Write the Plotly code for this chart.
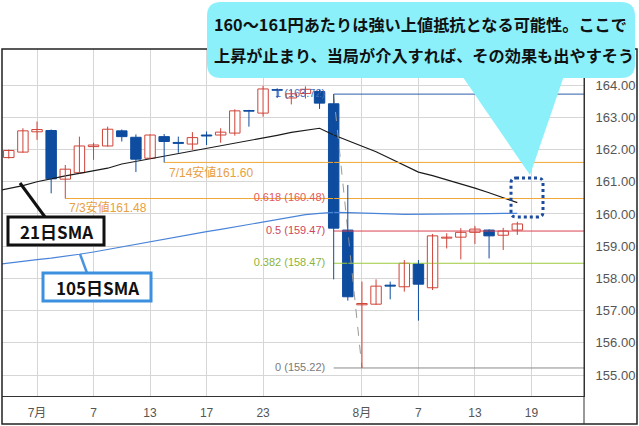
import plotly.graph_objects as go

# ---------------- data (bar slots = trading days) ----------------
bar_idx = list(range(37))
opens  = [161.75, 161.92, 162.55, 162.59, 161.08, 161.28, 162.09, 162.11, 162.58, 162.38,
          161.73, 162.40, 162.22, 162.17, 162.45, 162.45, 162.51, 163.21, 163.13, 163.86,
          163.60, 163.74, 163.80, 163.42, 159.50, 157.18, 157.20, 157.79, 157.74, 158.45,
          157.71, 159.25, 159.28, 159.43, 159.50, 159.34, 159.50]
highs  = [162.00, 162.66, 162.87, 162.62, 161.52, 162.40, 162.21, 162.71, 162.62, 162.47,
          162.47, 162.48, 162.40, 162.54, 162.56, 162.66, 163.25, 163.23, 163.98, 163.90,
          163.85, 163.96, 163.85, 163.72, 160.90, 157.90, 157.97, 157.90, 158.57, 158.57,
          159.38, 159.40, 159.56, 159.63, 159.52, 159.57, 159.76]
lows   = [161.72, 161.90, 162.30, 160.64, 160.48, 161.26, 161.68, 162.09, 162.25, 161.30,
          161.70, 161.60, 161.90, 161.99, 162.14, 162.21, 162.43, 162.71, 163.02, 163.60,
          163.40, 163.58, 163.26, 157.97, 157.31, 155.22, 157.18, 157.35, 157.59, 156.69,
          157.64, 158.93, 158.59, 159.07, 158.62, 158.88, 159.35]
closes = [161.97, 162.58, 162.62, 161.09, 161.39, 162.11, 162.14, 162.63, 162.40, 161.70,
          162.45, 162.25, 162.19, 162.37, 162.42, 162.54, 163.20, 163.19, 163.88, 163.84,
          163.73, 163.87, 163.44, 159.56, 157.43, 157.22, 157.76, 157.76, 158.47, 157.82,
          159.32, 159.28, 159.43, 159.53, 159.32, 159.47, 159.69]

sma_idx = list(range(-1, 37))
sma21 = [160.70, 160.78, 160.88, 161.00, 161.10, 161.18, 161.26, 161.34, 161.42, 161.55,
         161.63, 161.71, 161.79, 161.87, 161.95, 162.03, 162.10, 162.18, 162.27, 162.35,
         162.44, 162.53, 162.60, 162.66, 162.45, 162.27, 162.10, 161.93, 161.72, 161.51,
         161.30, 161.19, 161.06, 160.95, 160.80, 160.66, 160.50, 160.35]
sma105 = [158.42, 158.48, 158.53, 158.58, 158.63, 158.68, 158.75, 158.82, 158.90, 158.98,
          159.06, 159.15, 159.23, 159.31, 159.38, 159.45, 159.52, 159.60, 159.68, 159.76,
          159.84, 159.92, 159.98, 160.02, 160.05, 160.04, 160.02, 160.01, 160.00, 159.99,
          159.99, 159.99, 160.00, 160.00, 160.01, 160.01, 160.02, 160.02]

tick_idx = [2, 6, 10, 14, 18, 25, 29, 33, 37]
tick_text = ["7月", "7", "13", "17", "23", "8月", "7", "13", "19"]
y_ticks = [155, 156, 157, 158, 159, 160, 161, 162, 163, 164]

fib_ratio = ["1", "0.618", "0.5", "0.382", "0"]
fib_value = [163.72, 160.48, 159.47, 158.47, 155.22]
fib_high_idx, fib_low_idx = 23, 25

support_text = ["7/14安値161.60", "7/3安値161.48"]
support_value = [161.60, 160.48]
support_start = [11, 4]

callout_lines = ["160～161円あたりは強い上値抵抗となる可能性。ここで",
                 "上昇が止まり、当局が介入すれば、その効果も出やすそう"]

# ---------------- style ----------------
UP = "#cf4338"
DOWN = "#0e4c9f"
fib_line_col = ["#2f5ea8", "#f0a838", "#d9434f", "#9cc93c", "#8a8a8a"]
fib_text_col = ["#4a6db5", "#e35a58", "#d0455a", "#8db33a", "#7a7a7a"]
ORANGE = "#f0a838"
ORANGE_TXT = "#e8a040"
XMIN, XMAX = -0.48, 40.72
YMIN, YMAX = 154.35, 165.12
W, H = 639, 426
ML, MR, MT, MB = 2, 55, 49, 30
PW, PH = W - ML - MR, H - MT - MB


def X(px):
    return (px - ML) / PW


def Y(py):
    return (H - MB - py) / PH


def rrect(x0, y0, x1, y1, r):
    return (f"M {X(x0+r)},{Y(y0)} L {X(x1-r)},{Y(y0)} Q {X(x1)},{Y(y0)} {X(x1)},{Y(y0+r)} "
            f"L {X(x1)},{Y(y1-r)} Q {X(x1)},{Y(y1)} {X(x1-r)},{Y(y1)} "
            f"L {X(x0+r)},{Y(y1)} Q {X(x0)},{Y(y1)} {X(x0)},{Y(y1-r)} "
            f"L {X(x0)},{Y(y0+r)} Q {X(x0)},{Y(y0)} {X(x0+r)},{Y(y0)} Z")


fig = go.Figure()

# moving averages
fig.add_trace(go.Scatter(x=sma_idx, y=sma105, mode="lines",
                         line=dict(color="#4a84d8", width=1.2), hoverinfo="skip"))
fig.add_trace(go.Scatter(x=sma_idx, y=sma21, mode="lines",
                         line=dict(color="#1a1a1a", width=1.2), hoverinfo="skip"))

# support lines (orange)
for v, s in zip(support_value, support_start):
    fig.add_trace(go.Scatter(x=[s, XMAX + 1], y=[v, v], mode="lines",
                             line=dict(color=ORANGE, width=1), hoverinfo="skip"))

# fibonacci lines
for i, (r, v) in enumerate(zip(fib_ratio, fib_value)):
    if r == "0.618":
        continue
    fig.add_trace(go.Scatter(x=[fib_high_idx, XMAX + 1], y=[v, v], mode="lines",
                             line=dict(color=fib_line_col[i], width=1), hoverinfo="skip"))

# dashed fib anchor line
fig.add_trace(go.Scatter(x=[fib_high_idx, fib_low_idx], y=[fib_value[0], fib_value[-1]],
                         mode="lines", line=dict(color="#999999", width=1, dash="dash"),
                         hoverinfo="skip"))

# fib labels (under candles)
fig.add_trace(go.Scatter(
    x=[fib_high_idx - 0.6] * len(fib_value), y=fib_value, mode="text",
    text=[f"{r} ({v:.2f})" for r, v in zip(fib_ratio, fib_value)],
    textposition="middle left",
    textfont=dict(family="Liberation Sans, Noto Sans CJK JP", size=11, color=fib_text_col),
    hoverinfo="skip"))

# wicks
up_x, up_y, dn_x, dn_y = [], [], [], []
for i, o, h, l, c in zip(bar_idx, opens, highs, lows, closes):
    if c >= o:
        up_x += [i, i, None]
        up_y += [l, h, None]
    else:
        dn_x += [i, i, None]
        dn_y += [l, h, None]
fig.add_trace(go.Scatter(x=up_x, y=up_y, mode="lines", line=dict(color=UP, width=1),
                         hoverinfo="skip"))
fig.add_trace(go.Scatter(x=dn_x, y=dn_y, mode="lines", line=dict(color=DOWN, width=1),
                         hoverinfo="skip"))

# bodies
ux = [i for i, o, c in zip(bar_idx, opens, closes) if c >= o]
ub = [o for o, c in zip(opens, closes) if c >= o]
uh = [c - o for o, c in zip(opens, closes) if c >= o]
dx = [i for i, o, c in zip(bar_idx, opens, closes) if c < o]
db = [c for o, c in zip(opens, closes) if c < o]
dh = [o - c for o, c in zip(opens, closes) if c < o]
fig.add_trace(go.Bar(x=ux, y=uh, base=ub, width=0.74,
                     marker=dict(color="white", line=dict(color=UP, width=1)), hoverinfo="skip"))
fig.add_trace(go.Bar(x=dx, y=dh, base=db, width=0.74,
                     marker=dict(color=DOWN, line=dict(color=DOWN, width=1)), hoverinfo="skip"))

# support labels
for t, v, s, dyv, dxv in zip(support_text, support_value, support_start, [-0.30, -0.29], [0.2, 0.12]):
    fig.add_annotation(x=s + dxv, y=v + dyv, text=t, showarrow=False, xanchor="left",
                       yanchor="middle",
                       font=dict(family="Liberation Sans, Noto Sans CJK JP", size=12, color=ORANGE_TXT))

shapes = []
# outer frame
shapes.append(dict(type="rect", xref="paper", yref="paper", x0=X(2), x1=X(637), y0=Y(424), y1=Y(49),
                   line=dict(color="#222", width=1.5), layer="above"))
shapes.append(dict(type="line", xref="paper", yref="paper", x0=1, x1=1, y0=Y(424), y1=Y(49),
                   line=dict(color="#333", width=1), layer="above"))
# SMA label boxes
shapes.append(dict(type="line", xref="paper", yref="paper", x0=X(20), y0=Y(183), x1=X(45), y1=Y(217),
                   line=dict(color="#111", width=3), layer="above"))
shapes.append(dict(type="rect", xref="paper", yref="paper", x0=X(8), x1=X(104), y0=Y(245), y1=Y(217),
                   line=dict(color="#111", width=3), fillcolor="white", layer="above"))
shapes.append(dict(type="line", xref="paper", yref="paper", x0=X(80), y0=Y(254), x1=X(87), y1=Y(273),
                   line=dict(color="#4a93e0", width=2.5), layer="above"))
shapes.append(dict(type="rect", xref="paper", yref="paper", x0=X(43), x1=X(151), y0=Y(301), y1=Y(273),
                   line=dict(color="#3d8fe0", width=3), fillcolor="white", layer="above"))
# dotted target box
shapes.append(dict(type="path", xref="paper", yref="paper", path=rrect(511, 178, 543, 217, 5),
                   line=dict(color="#1d4b9e", width=3, dash="dot"), layer="above"))
# callout
CYAN = "#8cf0fb"
shapes.append(dict(type="path", xref="paper", yref="paper",
                   path=f"M {X(458)},{Y(70)} L {X(566)},{Y(70)} L {X(530)},{Y(175)} Z",
                   fillcolor=CYAN, line=dict(width=0), layer="above"))
shapes.append(dict(type="path", xref="paper", yref="paper", path=rrect(207, 2, 635, 78, 14),
                   fillcolor=CYAN, line=dict(width=0), layer="above"))

annos = []
for t, py in zip(callout_lines, [24, 55]):
    annos.append(dict(xref="paper", yref="paper", x=X(212), y=Y(py), text=f"<b>{t}</b>",
                      showarrow=False, xanchor="left", yanchor="middle",
                      font=dict(family="Noto Sans CJK JP", size=16.2, color="#111")))
annos.append(dict(xref="paper", yref="paper", x=X(56), y=Y(231), text="<b>21日SMA</b>",
                  showarrow=False, xanchor="center", yanchor="middle",
                  font=dict(family="Noto Sans CJK JP", size=17, color="#111")))
annos.append(dict(xref="paper", yref="paper", x=X(97), y=Y(287), text="<b>105日SMA</b>",
                  showarrow=False, xanchor="center", yanchor="middle",
                  font=dict(family="Noto Sans CJK JP", size=17, color="#111")))
for a in annos:
    fig.add_annotation(**a)

fig.update_layout(
    width=W, height=H, margin=dict(l=ML, r=MR, t=MT, b=MB),
    paper_bgcolor="white", plot_bgcolor="white", showlegend=False, barmode="overlay",
    shapes=shapes,
    xaxis=dict(range=[XMIN, XMAX], tickmode="array", tickvals=tick_idx, ticktext=tick_text,
               showgrid=True, gridcolor="#d6d6d6", gridwidth=1, zeroline=False,
               showline=True, linecolor="#333", linewidth=1, ticks="", ticklabelstandoff=6,
               tickfont=dict(family="Liberation Sans, Noto Sans CJK JP", size=12, color="#555")),
    yaxis=dict(range=[YMIN, YMAX], side="right", tickmode="array", tickvals=y_ticks,
               ticktext=[f"{v:.2f}" for v in y_ticks],
               showgrid=True, gridcolor="#d6d6d6", gridwidth=1, zeroline=False,
               showline=True, linecolor="#333", linewidth=1, ticks="", ticklabelstandoff=8,
               tickfont=dict(family="Liberation Sans", size=13, color="#555")),
)

fig.write_html("out.html", config={"displayModeBar": False},
               post_script="document.body.style.margin='0';")
